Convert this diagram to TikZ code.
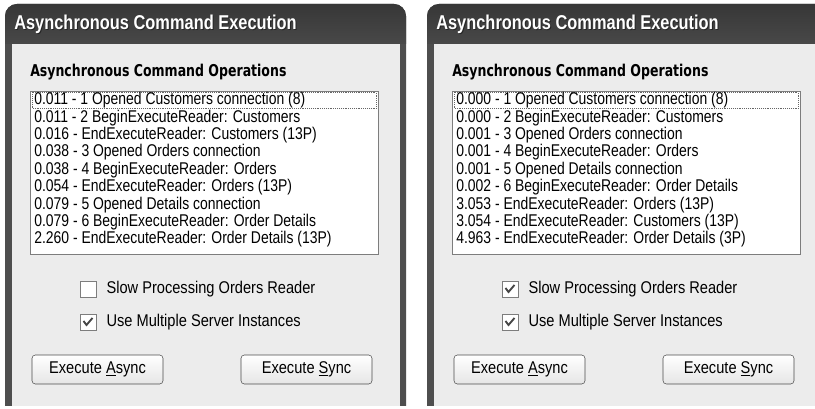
\documentclass[tikz,border=0pt]{standalone}
\usepackage{fontspec}
\usepackage{xcolor}
\usetikzlibrary{positioning}
\newfontfamily\uifont[FakeStretch=0.82]{Liberation Sans}
\newfontfamily\cbfont[FakeStretch=0.86]{Liberation Sans}
\newfontfamily\titlefont[FakeStretch=0.82]{Liberation Sans}
\newfontfamily\headfont[FakeStretch=0.77]{DejaVu Sans}
\definecolor{framegray}{RGB}{78,78,78}
\definecolor{titletop}{RGB}{55,55,55}
\definecolor{titlemid}{RGB}{118,118,118}
\definecolor{titlebot}{RGB}{88,88,88}
\definecolor{clientgray}{RGB}{236,236,236}
\definecolor{boxborder}{RGB}{125,125,125}
\definecolor{btnborder}{RGB}{75,75,75}
\definecolor{tickgray}{RGB}{70,70,70}

\begin{document}
\begin{tikzpicture}[x=0.75pt, y=-0.75pt,
  wintitle/.style={anchor=west, inner sep=0pt, text=white, font=\titlefont\bfseries\fontsize{15}{17}\selectfont},
  winshadow/.style={wintitle, text=black!85},
  heading/.style={anchor=west, inner sep=0pt, font=\headfont\bfseries\fontsize{12.2}{14}\selectfont},
  listitem/.style={anchor=west, inner sep=0pt, font=\uifont\fontsize{12.75}{14}\selectfont},
  cbox/.style={draw=boxborder, fill=white, minimum size=12pt, inner sep=0pt},
  cblabel/.style={anchor=west, inner sep=0pt, font=\cbfont\fontsize{12.75}{14}\selectfont},
  btn/.style={draw=btnborder, rounded corners=2.5pt, top color=white, bottom color=black!10,
    minimum width=98.25pt, minimum height=21.75pt, inner sep=0pt, font=\cbfont\fontsize{12.75}{14}\selectfont}]
  \useasboundingbox (0,0) rectangle (815,409);
  \fill[white] (0,0) rectangle (815,409);

  % both windows share the frame, heading, list box and buttons
  \foreach \side/\dx in {one/0, two/422} {
    \begin{scope}[shift={(\dx,0)}]
      \begin{scope}
        \clip (0,0) rectangle (420,406);
        \fill[framegray, rounded corners=9pt] (5,4) rectangle (406,440);
        \begin{scope}
          \clip (0,0) rectangle (420,44);
          \shade[top color=titletop, middle color=titlemid, bottom color=titlebot, rounded corners=9pt]
            (5,4) rectangle (406,80);
        \end{scope}
        \fill[clientgray] (12,44) rectangle (400,440);
      \end{scope}
      \node[winshadow] at (15,25) {Asynchronous Command Execution};
      \node[wintitle] (\side-title) at (14,24) {Asynchronous Command Execution};
      \node[heading] (\side-head) at (30,72) {Asynchronous Command Operations};
      \draw[boxborder, fill=white] (30,91) rectangle (378,254);
      \draw[black!60, densely dotted] (32,92.5) rectangle (376,108.5);
      \node[cbox] (\side-multi) at (88,322) {};
      \draw[tickgray, line width=1.4pt] (83.5,321) -- (86.5,325) -- (92.5,318);
      \node[cblabel, right=7.5pt of \side-multi] (\side-multitxt) {Use Multiple Server Instances};
      \node[btn] (\side-async) at (97.5,369.5) {Execute \underline{A}sync};
      \node[btn] (\side-sync) at (306.5,369.5) {Execute \underline{S}ync};
    \end{scope}
  }

  % left run
  \foreach \txt [count=\i] in {0.011 - 1 Opened Customers connection (8),
      0.011 - 2 BeginExecuteReader: Customers,
      0.016 - EndExecuteReader: Customers (13P),
      0.038 - 3 Opened Orders connection,
      0.038 - 4 BeginExecuteReader: Orders,
      0.054 - EndExecuteReader: Orders (13P),
      0.079 - 5 Opened Details connection,
      0.079 - 6 BeginExecuteReader: Order Details,
      2.260 - EndExecuteReader: Order Details (13P)}
    \node[listitem] (one-item\i) at (34,83+17.4*\i) {\txt};
  \node[cbox] (one-slow) at (88,289) {};
  \node[cblabel, right=7.5pt of one-slow] (one-slowtxt) {Slow Processing Orders Reader};

  % right run
  \foreach \txt [count=\i] in {0.000 - 1 Opened Customers connection (8),
      0.000 - 2 BeginExecuteReader: Customers,
      0.001 - 3 Opened Orders connection,
      0.001 - 4 BeginExecuteReader: Orders,
      0.001 - 5 Opened Details connection,
      0.002 - 6 BeginExecuteReader: Order Details,
      3.053 - EndExecuteReader: Orders (13P),
      3.054 - EndExecuteReader: Customers (13P),
      4.963 - EndExecuteReader: Order Details (3P)}
    \node[listitem] (two-item\i) at (456,83+17.4*\i) {\txt};
  \node[cbox] (two-slow) at (510,289) {};
  \draw[tickgray, line width=1.4pt] (505.5,288) -- (508.5,292) -- (514.5,285);
  \node[cblabel, right=7.5pt of two-slow] (two-slowtxt) {Slow Processing Orders Reader};
\end{tikzpicture}
\end{document}
